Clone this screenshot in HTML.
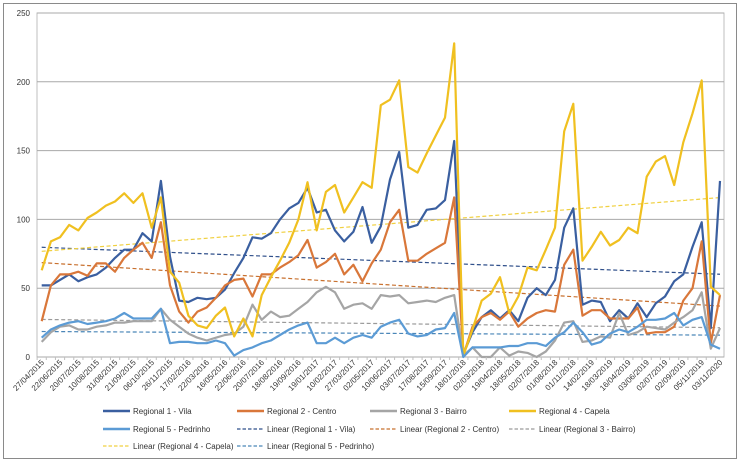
<!DOCTYPE html>
<html><head><meta charset="utf-8"><style>
body{margin:0;background:#fff;width:741px;height:462px;overflow:hidden}
svg{font-family:"Liberation Sans",sans-serif}
</style></head><body>
<svg id="chart" width="741" height="462" viewBox="0 0 741 462" xmlns="http://www.w3.org/2000/svg">
<rect x="3.5" y="3.5" width="733" height="455" fill="#fff" stroke="#8a8a8a"/>
<g id="grid"></g><g id="trends"></g><g id="series"></g><g id="axes"></g><g id="legend"></g>
</svg>
<script>
const labels=["27/04/2015","22/06/2015","20/07/2015","10/08/2015","31/08/2015","21/09/2015","06/10/2015","26/11/2015","17/02/2016","22/03/2016","16/05/2016","22/06/2016","20/07/2016","18/08/2016","19/09/2016","19/01/2017","10/02/2017","27/03/2017","02/05/2017","10/06/2017","03/07/2017","17/08/2017","15/09/2017","18/01/2018","02/03/2018","19/04/2018","18/05/2018","02/07/2018","01/08/2018","01/11/2018","14/02/2019","18/03/2019","16/04/2019","03/06/2019","02/07/2019","02/09/2019","05/11/2019","03/11/2020"];
const yTicks=[0,50,100,150,200,250];
const vila=[52,52,56,60,55,58,60,65,72,78,78,90,84,128,73,41,40,43,42,43,49,61,72,87,86,90,100,108,112,123,105,107,92,84,91,109,83,95,129,149,94,96,107,108,114,157,2,18,29,34,28,34,26,43,50,45,56,94,108,38,41,40,26,34,28,39,29,39,44,55,60,80,98,21,128];
const centro=[26,52,60,60,62,59,68,68,62,72,78,83,72,98,52,33,25,33,36,43,52,56,57,44,60,60,65,69,74,85,65,69,75,60,67,55,68,78,98,107,70,70,75,79,83,116,1,22,29,32,27,33,22,28,32,34,33,67,78,30,34,34,28,28,28,36,17,18,18,22,41,50,84,10,45];
const bairro=[11,18,22,23,20,20,22,23,25,25,26,26,26,35,27,22,17,14,12,14,16,17,22,38,27,33,29,30,35,40,47,51,47,35,38,39,35,45,44,45,39,40,41,40,43,45,1,7,0,0,7,1,4,3,0,4,12,25,26,11,12,15,14,32,16,18,22,21,20,25,29,34,47,6,21];
const capela=[63,84,87,96,92,101,105,110,113,119,112,119,94,116,62,54,30,23,21,30,36,15,28,15,45,58,70,83,100,127,92,120,125,105,116,127,123,183,187,201,138,134,148,161,174,228,1,20,41,46,58,32,44,65,63,78,94,164,184,70,80,91,81,85,94,90,131,142,146,125,156,177,201,51,45];
const pedrinho=[14,20,23,25,26,24,25,26,28,32,28,28,28,35,10,11,11,10,10,12,10,1,5,7,10,12,16,20,23,25,10,10,14,10,14,16,14,22,25,27,17,15,16,20,21,32,0,7,7,7,7,8,8,10,10,8,14,18,25,18,9,11,17,20,18,22,27,27,28,32,23,27,29,9,6];
const names=["Regional 1 - Vila","Regional 2 - Centro","Regional 3 - Bairro","Regional 4 - Capela","Regional 5 - Pedrinho"];
const colors=["#3a5fa0","#d9773a","#a5a5a5","#f0c020","#5b9bd5"];
const trendColors=["#2f4f8a","#c8702e","#9a9a9a","#f0d040","#4a86b8"];
const allSeries=[vila,centro,bairro,capela,pedrinho];
const NS="http://www.w3.org/2000/svg";
const L=37,R=724,T=13,B=357,N=vila.length;
const x0=41.7,dx=(720-41.7)/(N-1);
const xs=i=>x0+i*dx, ys=v=>B-(v/250)*(B-T);
function mk(tag,attrs,parent){const e=document.createElementNS(NS,tag);for(const k in attrs)e.setAttribute(k,attrs[k]);parent.appendChild(e);return e;}
const grid=document.getElementById('grid'),axes=document.getElementById('axes');
const pa=mk('rect',{x:L,y:T,width:R-L,height:B-T,fill:'none',stroke:'#bfbfbf'},grid);


yTicks.forEach(t=>{
 const g=mk('line',{x1:L,x2:R,y1:ys(t),y2:ys(t),stroke:'#a8a8a8','stroke-width':1},grid);
 
 
 const tx=mk('text',{x:30,y:ys(t)+3,'font-size':8,'text-anchor':'end',fill:'#333'},axes);
 tx.textContent=t;
 
 
});
for(let i=0;i<N;i++){
 const tk=mk('line',{x1:xs(i)-dx/2,x2:xs(i)-dx/2,y1:B,y2:B+3,stroke:'#bfbfbf'},axes);
 
 
}
labels.forEach((lb,k)=>{
 const x=xs(k*2)+3,y=B+6;
 const tx=mk('text',{x:x,y:y,'font-size':8,'text-anchor':'end',fill:'#333',transform:`rotate(-45 ${x} ${y})`},axes);
 tx.textContent=lb;
 
 
});
const trends=document.getElementById('trends'),series=document.getElementById('series');
allSeries.forEach((d,s)=>{
 let sx=0,sy=0,sxx=0,sxy=0;
 d.forEach((v,i)=>{sx+=i;sy+=v;sxx+=i*i;sxy+=i*v;});
 const m=(N*sxy-sx*sy)/(N*sxx-sx*sx),b=(sy-m*sx)/N;
 const tl=mk('line',{x1:xs(0),y1:ys(b),x2:xs(N-1),y2:ys(b+m*(N-1)),stroke:trendColors[s],'stroke-width':1.2,'stroke-dasharray':'4 2.5'},trends);
 
 
});
allSeries.forEach((d,s)=>{
 const p=mk('polyline',{points:d.map((v,i)=>xs(i).toFixed(1)+','+ys(v).toFixed(1)).join(' '),fill:'none',stroke:colors[s],'stroke-width':2.2,'stroke-linejoin':'round'},series);
 
 
});
const lg=document.getElementById('legend');
const cols=[103,237,370,509],rows=[411,429,446];
const entries=[];
names.forEach((n,i)=>entries.push({t:n,c:colors[i],dash:false}));
names.forEach((n,i)=>entries.push({t:'Linear ('+n+')',c:trendColors[i],dash:true}));
entries.forEach((e,k)=>{
 const x=cols[k%4],y=rows[Math.floor(k/4)];
 const g=mk('g',{},lg);
 
 
 mk('line',{x1:x,x2:x+27,y1:y,y2:y,stroke:e.c,'stroke-width':e.dash?1.3:2.5,'stroke-dasharray':e.dash?'3.5 2':'none'},g);
 const t=mk('text',{x:x+30,y:y+3,'font-size':8,fill:'#333'},g);
 t.textContent=e.t;
});
</script>
</body></html>
